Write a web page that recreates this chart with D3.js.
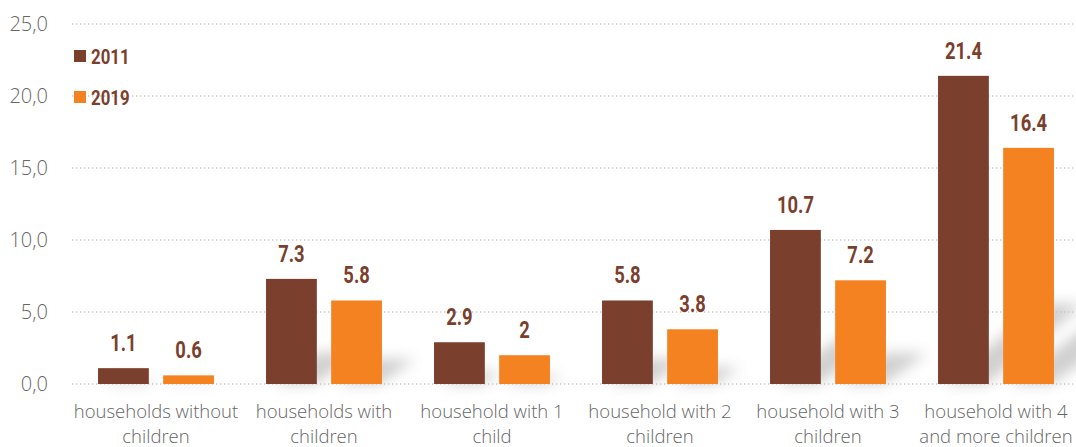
<!DOCTYPE html>
<html>
<head>
<meta charset="utf-8">
<script src="https://cdn.jsdelivr.net/npm/d3@7/dist/d3.min.js"></script>
<style>
  html, body { margin: 0; padding: 0; background: #fff; }
  svg { display: block; }
</style>
</head>
<body>
<svg id="chart" width="1076" height="447"></svg>
<script>
const categories = [
  ["households without", "children"],
  ["households with", "children"],
  ["household with 1", "child"],
  ["household with 2", "children"],
  ["household with 3", "children"],
  ["household with 4", "and more children"]
];
const years = ["2011", "2019"];
const values2011 = [1.1, 7.3, 2.9, 5.8, 10.7, 21.4];
const values2019 = [0.6, 5.8, 2, 3.8, 7.2, 16.4];
const yTicks = [0, 5, 10, 15, 20, 25];
const colors = ["#7B3F2D", "#F58220"];

const svg = d3.select("#chart");
const W = 1076, H = 447;
const margin = { left: 72, right: -4, top: 24, bottom: 63 };
const labelFont = "'Roboto', 'DejaVu Sans', sans-serif";

const x0 = d3.scaleBand()
  .domain(d3.range(categories.length))
  .range([margin.left, W - margin.right])
  .paddingInner(0.31)
  .paddingOuter(0.155);
const x1 = d3.scaleBand()
  .domain(years)
  .range([0, x0.bandwidth()])
  .paddingInner(0.22);
const y = d3.scaleLinear().domain([0, 25]).range([H - margin.bottom, margin.top]);

const series = [values2011, values2019];

// soft shadows cast by the bars toward the upper right
const defs = svg.append("defs");
defs.append("filter").attr("id", "soft").attr("x", "-50%").attr("y", "-50%")
  .attr("width", "200%").attr("height", "200%")
  .append("feGaussianBlur").attr("stdDeviation", 7);

const shadowG = svg.append("g").attr("filter", "url(#soft)").attr("opacity", 0.28);
categories.forEach((c, i) => {
  years.forEach((yr, s) => {
    const v = series[s][i];
    const xl = x0(i) + x1(yr);
    const xr = xl + x1.bandwidth();
    const h = y(0) - y(v);
    const base = y(0);
    const dx = Math.min(h * 0.4, 95);
    const dy = Math.min(h * 0.3, 80);
    shadowG.append("path")
      .attr("d", `M${xl + 6},${base} L${xr - 2},${base} L${xr + dx},${base - dy} L${xl + dx + 8},${base - dy} Z`)
      .attr("fill", "#555");
  });
});

// gridlines
const grid = svg.append("g");
grid.selectAll("line").data(yTicks).join("line")
  .attr("x1", margin.left).attr("x2", W)
  .attr("y1", d => y(d)).attr("y2", d => y(d))
  .attr("stroke", "#c8c8c8").attr("stroke-width", 1.3)
  .attr("stroke-dasharray", "1.3,2.7");

// y tick labels
const yAxis = d3.axisLeft(y).tickValues(yTicks).tickSize(0).tickPadding(0)
  .tickFormat(d => d3.format(".1f")(d).replace(".", ","));
const yg = svg.append("g").attr("transform", "translate(48,0)").call(yAxis);
yg.select(".domain").remove();
yg.selectAll("text")
  .attr("font-family", "'Open Sans', sans-serif")
  .attr("font-weight", 300)
  .attr("font-size", 20)
  .attr("fill", "#666");

// bars and value labels
const groups = svg.append("g").selectAll("g").data(categories).join("g")
  .attr("transform", (d, i) => `translate(${x0(i)},0)`);
years.forEach((yr, s) => {
  groups.append("rect")
    .attr("x", x1(yr))
    .attr("width", x1.bandwidth())
    .attr("y", (d, i) => y(series[s][i]))
    .attr("height", (d, i) => y(0) - y(series[s][i]))
    .attr("fill", colors[s]);
  groups.append("text")
    .attr("transform", (d, i) =>
      `translate(${x1(yr) + x1.bandwidth() / 2},${y(series[s][i]) - 17}) scale(0.8,1)`)
    .attr("text-anchor", "middle")
    .attr("font-family", labelFont)
    .attr("font-weight", "bold")
    .attr("font-size", 23)
    .attr("fill", colors[0])
    .text((d, i) => String(series[s][i]));
});

// category labels
const xg = svg.append("g");
categories.forEach((lines, i) => {
  const cx = x0(i) + x0.bandwidth() / 2;
  const t = xg.append("text")
    .attr("x", cx)
    .attr("y", 418)
    .attr("text-anchor", "middle")
    .attr("font-family", "'Open Sans', sans-serif")
    .attr("font-weight", 300)
    .attr("font-size", 18.5)
    .attr("fill", "#666");
  lines.forEach((ln, k) => {
    t.append("tspan").attr("x", cx).attr("dy", k === 0 ? 0 : 25).text(ln);
  });
});

// legend
const legend = svg.append("g");
years.forEach((yr, s) => {
  const ly = 56 + s * 41;
  legend.append("rect").attr("x", 74).attr("y", ly - 6).attr("width", 12).attr("height", 12)
    .attr("fill", colors[s]);
  legend.append("text")
    .attr("transform", `translate(91,${ly + 8}) scale(0.8,1)`)
    .attr("font-family", labelFont)
    .attr("font-weight", "bold")
    .attr("font-size", 21)
    .attr("fill", colors[0])
    .text(yr);
});
</script>
</body>
</html>
